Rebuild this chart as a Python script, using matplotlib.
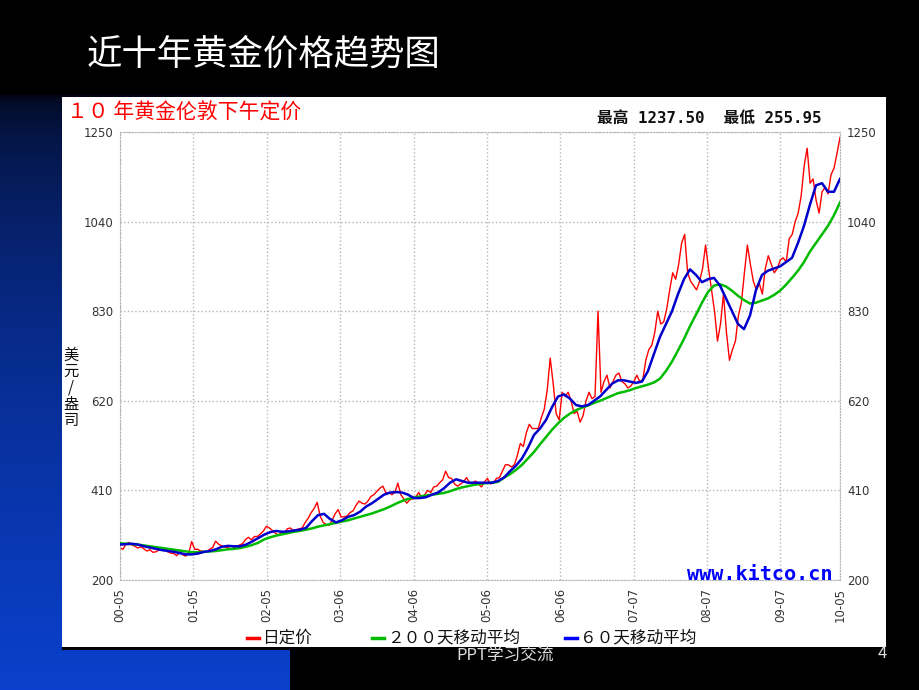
import numpy as np
import matplotlib
matplotlib.use("Agg")
import matplotlib.pyplot as plt
from matplotlib.patches import Rectangle
from matplotlib.lines import Line2D

plt.rcParams['font.family'] = ['Noto Sans CJK SC', 'DejaVu Sans']

# 日定价, two readings per month, 2000-05 .. 2010-05
daily_fix = [
    275, 272, 285, 288, 282, 279, 275, 278, 273, 268, 271, 265, 266, 270, 272, 274, 266, 263, 262, 257, 266, 259, 256, 263,
    290, 272, 272, 268, 267, 266, 272, 276, 291, 284, 280, 278, 276, 273, 275, 278, 282, 285, 295, 300, 294, 302, 302, 308,
    315, 326, 322, 316, 310, 305, 312, 310, 320, 322, 316, 318, 320, 322, 335, 345, 358, 368, 382, 350, 335, 330, 328, 340,
    355, 365, 348, 348, 350, 358, 362, 375, 385, 380, 378, 385, 396, 400, 408, 415, 420, 404, 405, 400, 405, 427, 400, 390,
    380, 388, 390, 395, 405, 392, 400, 410, 405, 418, 420, 428, 435, 455, 440, 438, 425, 420, 425, 430, 440, 428, 428, 432,
    425, 418, 430, 438, 425, 428, 438, 440, 455, 470, 470, 465, 470, 492, 520, 513, 545, 565, 555, 555, 555, 580, 600, 645,
    720, 660, 590, 575, 640, 630, 640, 620, 590, 595, 570, 585, 620, 640, 625, 630, 830, 640, 665, 680, 650, 665, 680, 685,
    665, 660, 650, 655, 665, 680, 665, 670, 715, 740, 750, 780, 830, 800, 805, 835, 880, 920, 905, 940, 990, 1010, 920, 900,
    890, 880, 900, 930, 985, 930, 880, 830, 760, 800, 870, 780, 715, 740, 760, 820, 850, 920, 985, 940, 900, 880, 895, 870,
    930, 960, 940, 920, 930, 950, 955, 945, 1000, 1010, 1040, 1060, 1100, 1170, 1212, 1130, 1140, 1090, 1060, 1110, 1120,
    1105, 1150, 1165, 1200, 1237.5,
]

# 200 天移动平均, monthly
ma200 = [
    286, 285, 284, 283, 281, 279, 277, 275, 273, 271, 269, 267,
    265, 265, 266, 267, 268, 270, 272, 273, 275, 278, 282, 287,
    295, 300, 304, 307, 310, 313, 315, 318, 321, 325, 328, 331,
    334, 337, 340, 344, 348, 352, 356, 361, 366, 372, 379, 385,
    390, 393, 396, 398, 400, 402, 404, 408, 413, 417, 420, 423,
    425, 427, 428, 430, 440, 448, 458, 470, 485, 500, 518, 535,
    552, 567, 580, 590, 598, 604, 609, 615, 620, 626, 632, 638,
    641, 645, 650, 654, 658, 663, 672, 690, 712, 738, 765, 795,
    822, 850, 875, 890, 893, 888, 878, 866, 856, 848, 850, 855,
    860, 868, 878, 892, 908, 925, 945, 970, 990, 1010, 1030, 1055,
    1085,
]

# 60 天移动平均, monthly
ma60 = [
    283, 284, 285, 283, 279, 276, 273, 270, 268, 266, 263, 260,
    260, 262, 266, 268, 272, 278, 280, 279, 279, 283, 290, 298,
    306, 312, 315, 313, 314, 316, 318, 322, 338, 352, 355, 343,
    335, 340, 348, 352, 360, 372, 380, 390, 400, 405, 406, 405,
    400, 392, 392, 394, 400, 405, 415, 428, 436, 432, 428, 428,
    428, 428, 428, 432, 440, 455, 468, 485, 510, 540, 555, 575,
    605, 630, 635, 625, 610, 607, 610, 620, 630, 645, 660, 668,
    668, 665, 662, 665, 690, 730, 770, 800, 830, 870, 905, 928,
    915, 898, 905, 908, 890, 860, 830, 800, 788, 820, 880, 915,
    925, 930, 935, 945, 955, 990, 1030, 1080, 1125, 1130, 1110, 1110,
    1140,
]

tick_labels = ['00-05', '01-05', '02-05', '03-06', '04-06', '05-06',
               '06-06', '07-07', '08-07', '09-07', '10-05']
y_ticks = [200, 410, 620, 830, 1040, 1250]

W, H = 920, 690


def px(x, y):
    return x / W, 1 - y / H


fig = plt.figure(figsize=(9.2, 6.9), dpi=100)
fig.patch.set_facecolor('black')

# slide background
bg = fig.add_axes([0, 0, 1, 1], zorder=-10)
bg.set_xlim(0, W)
bg.set_ylim(H, 0)
bg.axis('off')
bg.add_patch(Rectangle((0, 0), W, H, color='black'))
t = np.linspace(0, 1, 200)[:, None]
top = np.array([0.01, 0.02, 0.08])
bot = np.array([0.04, 0.25, 0.80])
grad = (top + (bot - top) * np.sqrt(t))[:, None, :].repeat(2, axis=1)
bg.imshow(grad, extent=[0, 290, H, 95], aspect='auto', zorder=1)
bg.add_patch(Rectangle((62, 97), 824, 551, facecolor='white', edgecolor='none', zorder=2))
bg.add_patch(Rectangle((62, 647), 824, 3, facecolor='black', edgecolor='none', zorder=3))

# chart
ax = fig.add_axes([120 / W, 1 - 580 / H, 720 / W, 448 / H])
ax.set_facecolor('white')
x_daily = np.linspace(0, 120, len(daily_fix))
x_ma = np.arange(len(ma60))
ax.plot(x_daily, daily_fix, color='#ff0000', lw=1.0, zorder=2)
ax.plot(x_ma, ma200, color='#00bb00', lw=1.8, zorder=3)
ax.plot(x_ma, ma60, color='#0000cc', lw=1.8, zorder=4)

ax.set_xlim(0, 120)
ax.set_ylim(200, 1250)
tick_pos = list(np.arange(10) * 12.23) + [120]
ax.set_xticks(tick_pos)
ax.set_xticklabels(tick_labels, rotation=90, fontsize=8.5, color='#333333',
                   family='DejaVu Sans')
ax.set_yticks(y_ticks)
ax.set_yticklabels([str(v) for v in y_ticks], fontsize=8.5, color='#333333',
                   family='DejaVu Sans')
ax.tick_params(axis='both', length=0)
ax.tick_params(axis='y', labelright=True, pad=5)
ax.tick_params(axis='x', pad=6)
ax.grid(True, color='#b5b5b5', linestyle=':', linewidth=1.0)
for s in ax.spines.values():
    s.set_color('#b5b5b5')
    s.set_linestyle(':')

# texts
fig.text(*px(87, 55), '近十年黄金价格趋势图', color='white', fontsize=25.5,
         va='center', ha='left', fontweight='medium')
fig.text(*px(67, 113), '１０ 年黄金伦敦下午定价', color='#ff0000', fontsize=15,
         va='center', ha='left')
fig.text(*px(597, 118), '最高 1237.50  最低 255.95', color='#111111', fontsize=11.3,
         va='center', ha='left', fontweight='bold',
         family=['DejaVu Sans Mono', 'Noto Sans CJK SC'])
fig.text(*px(71, 388), '美\n元\n/\n盎\n司', color='#111111', fontsize=11,
         va='center', ha='center', linespacing=0.95)
fig.text(*px(833, 575), 'www.kitco.cn', color='#0000ff', fontsize=14.5,
         va='center', ha='right', fontweight='bold', family='DejaVu Sans Mono')

legend_items = [('日定价', '#ff0000', 247), ('２００天移动平均', '#00bb00', 372),
                ('６０天移动平均', '#0000ff', 565)]
for label, col, x0 in legend_items:
    fig.lines.append(Line2D([x0 / W, (x0 + 12) / W], [1 - 638 / H, 1 - 638 / H],
                            color=col, lw=2.5, transform=fig.transFigure))
    fig.text(*px(x0 + 15, 638), label, color='#111111', fontsize=12,
             va='center', ha='left')

fig.text(*px(505, 655), 'PPT学习交流', color='#dddddd', fontsize=12,
         va='center', ha='center')
fig.text(*px(882, 654), '4', color='#dddddd', fontsize=12, va='center', ha='center')

fig.savefig('out.png', dpi=100, facecolor='black')
